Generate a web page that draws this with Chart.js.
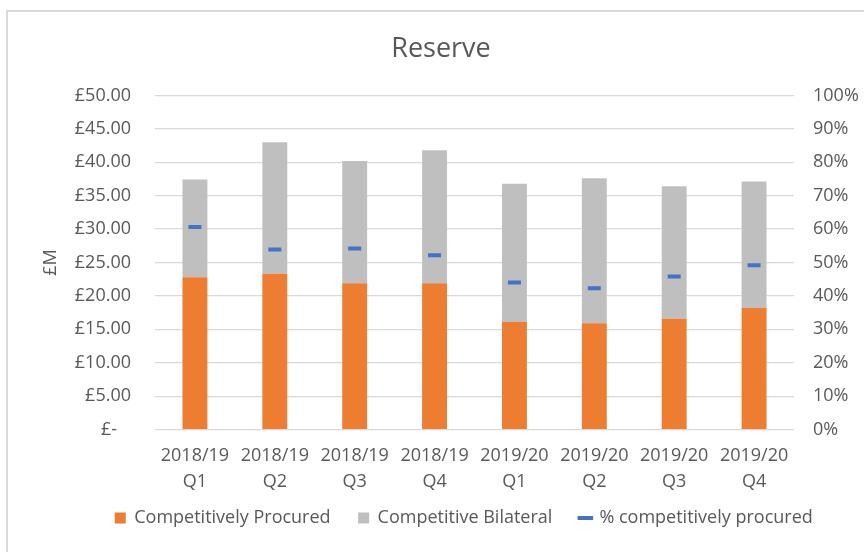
<!DOCTYPE html>
<html>
<head>
<meta charset="utf-8">
<script src="https://cdn.jsdelivr.net/npm/chart.js@4"></script>
<style>
  html, body { margin: 0; padding: 0; background: #fff; }
  #wrap { position: relative; width: 864px; height: 552px; }
  #frame { position: absolute; left: 6px; top: 10px; right: -4px; bottom: -4px; border-left: 2px solid #d9d9d9; border-top: 2px solid #d9d9d9; }
  canvas { position: absolute; left: 0; top: 0; }
</style>
</head>
<body>
<div id="wrap">
  <div id="frame"></div>
  <canvas id="reserveChart" width="864" height="552"></canvas>
</div>
<script>
const quarters = [
    ['2018/19', 'Q1'], ['2018/19', 'Q2'], ['2018/19', 'Q3'], ['2018/19', 'Q4'],
    ['2019/20', 'Q1'], ['2019/20', 'Q2'], ['2019/20', 'Q3'], ['2019/20', 'Q4']
];
// £M per quarter
const procured  = [22.8, 23.3, 21.9, 21.9, 16.1, 15.9, 16.6, 18.2];
const bilateral = [14.6, 19.7, 18.3, 19.9, 20.7, 21.7, 19.8, 18.9];
// share competitively procured, %
const pctProcured = [60.6, 53.9, 54.2, 52.2, 44.0, 42.3, 45.8, 49.2];

const textGrey = '#595959';
const gridGrey = '#d9d9d9';
const baseFont = { family: "'Open Sans', sans-serif", size: 18 };

// move the legend row under the plot: a bit right of canvas centre and tucked up under the axis labels
const legendNudge = {
    id: 'legendNudge',
    afterLayout(chart) {
        const lg = chart.legend;
        lg.left += 23; lg.right += 23;
        lg.top -= 27; lg.bottom -= 27;
    }
};

function initReserveChart() {
    const ctx = document.getElementById('reserveChart').getContext('2d');
    return new Chart(ctx, {
        type: 'bar',
        data: {
            labels: quarters,
            datasets: [
                { label: 'Competitively Procured', data: procured, backgroundColor: '#ed7d31', borderWidth: 0, pointStyle: 'rect', yAxisID: 'y', order: 2 },
                { label: 'Competitive Bilateral', data: bilateral, backgroundColor: '#bfbfbf', borderWidth: 0, pointStyle: 'rect', yAxisID: 'y', order: 3 },
                {
                    type: 'line', label: '% competitively procured', data: pctProcured, yAxisID: 'y1', order: 1,
                    showLine: false, pointStyle: 'line', pointRadius: 6.5, pointHoverRadius: 6.5,
                    pointBorderWidth: 4, pointBorderColor: '#4472c4', borderColor: '#4472c4', backgroundColor: '#4472c4'
                }
            ]
        },
        options: {
            responsive: false, animation: false,
            layout: { padding: { top: 0, bottom: -12, left: 18, right: 0 } },
            datasets: { bar: { barPercentage: 0.39, categoryPercentage: 0.8 } },
            scales: {
                x: {
                    stacked: true,
                    grid: { display: false, drawTicks: false },
                    border: { display: false },
                    ticks: { color: textGrey, font: { ...baseFont, lineHeight: 1.4 }, padding: 14, maxRotation: 0, autoSkip: false }
                },
                y: {
                    stacked: true, min: 0, max: 50,
                    afterFit: s => { s.width = 137; },
                    grid: { color: gridGrey, lineWidth: 1.3, drawTicks: false },
                    border: { display: false },
                    ticks: {
                        stepSize: 5, padding: 24, color: textGrey, font: baseFont,
                        callback: v => v === 0 ? '£-   ' : '£' + v.toFixed(2)
                    },
                    title: { display: true, text: '£M', color: textGrey, font: baseFont, padding: { top: 22, bottom: 0 } }
                },
                y1: {
                    position: 'right', min: 0, max: 100,
                    afterFit: s => { s.width = 70; },
                    grid: { drawOnChartArea: false, drawTicks: false },
                    border: { display: false },
                    ticks: { stepSize: 10, padding: 19, color: textGrey, font: baseFont, callback: v => v + '%' }
                }
            },
            plugins: {
                title: {
                    display: true, text: 'Reserve', color: textGrey,
                    font: { family: "'Open Sans', sans-serif", size: 27, weight: 'normal', lineHeight: 1.2 },
                    padding: { top: 33, bottom: 30 }
                },
                legend: {
                    position: 'bottom',
                    labels: {
                        usePointStyle: true, boxWidth: 10, boxHeight: 11,
                        padding: 28, color: textGrey, font: baseFont,
                        sort: (a, b) => a.datasetIndex - b.datasetIndex
                    }
                },
                tooltip: { enabled: false }
            }
        },
        plugins: [legendNudge]
    });
}

initReserveChart();
</script>
</body>
</html>
